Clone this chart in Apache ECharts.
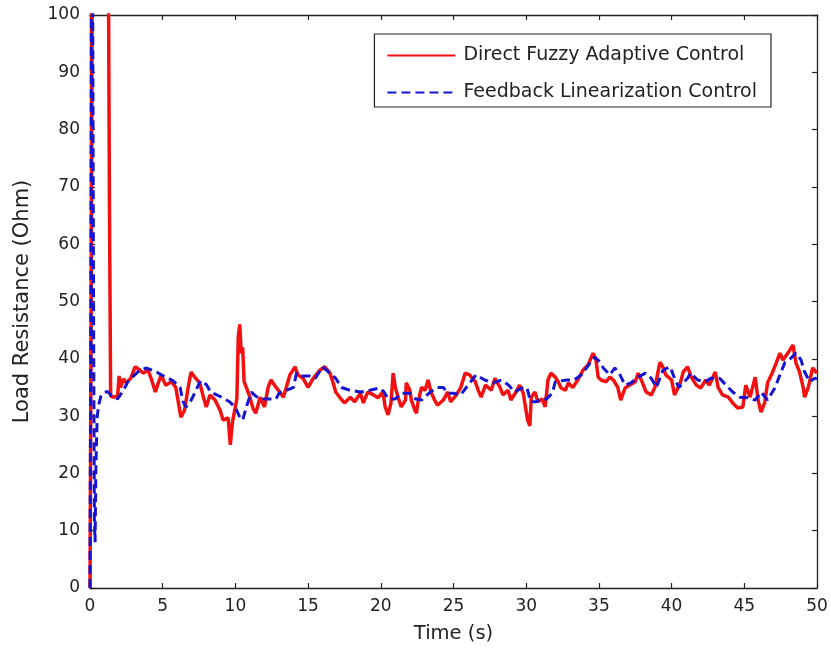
<!DOCTYPE html>
<html>
<head>
<meta charset="utf-8">
<script src="https://cdn.jsdelivr.net/npm/echarts@6/dist/echarts.min.js"></script>
<style>html,body{margin:0;padding:0;background:#fff}#c{width:831px;height:652px}</style>
</head>
<body>
<div id="c"></div>
<script>
var xTicks = [0, 5, 10, 15, 20, 25, 30, 35, 40, 45, 50];
var yTicks = [0, 10, 20, 30, 40, 50, 60, 70, 80, 90, 100];
var seriesNames = ['Direct Fuzzy Adaptive Control', 'Feedback Linearization Control'];
var xLabel = 'Time (s)';
var yLabel = 'Load Resistance (Ohm)';

var redPoints = [
[0,0],[0.1,60],[0.2,150],[1.22,150],[1.28,100],[1.34,66],[1.38,66],[1.42,33.5],[1.6,33.3],[1.9,33.5],[2.0,37],[2.1,35],[2.3,36.5],[2.5,35.8],[2.8,36.6],
[3.1,38.6],[3.45,38],[3.65,37.5],[4.0,38],[4.2,36.6],[4.5,34.2],[4.7,35.8],[4.9,37.2],[5.2,35.4],[5.6,36],[5.9,35],[6.05,32.8],[6.25,29.8],[6.5,31],
[6.75,35],[6.95,37.7],[7.2,36.8],[7.55,35.8],[7.8,33.3],[8.0,31.6],[8.25,33.7],[8.6,32.8],[8.95,31],[9.15,29.3],[9.5,29.7],[9.65,25],[9.8,29],[9.95,31],
[10.1,33],[10.2,44],[10.3,46],[10.4,41],[10.5,42],[10.6,36],[10.75,35],[11.0,33.3],[11.2,31.4],[11.4,30.5],[11.7,33.3],[12.0,31.6],[12.25,35],[12.45,36.3],
[12.8,35],[13.05,34.2],[13.3,33.3],[13.5,35],[13.75,37.2],[14.1,38.6],[14.3,37.2],[14.65,36.6],[15.0,35],[15.35,36.6],[15.8,38],[16.15,38.6],[16.5,37.5],
[16.7,36],[16.9,34.2],[17.2,33.2],[17.5,32.3],[17.9,33.3],[18.2,32.5],[18.6,34],[18.8,32.3],[19.1,34.2],[19.5,33.7],[19.8,33.2],[20.15,34.2],[20.3,31.6],
[20.5,30.2],[20.7,32.3],[20.85,37.5],[21.0,35],[21.2,33.2],[21.4,31.6],[21.7,32.8],[21.75,35.8],[22.0,34.5],[22.1,32.8],[22.35,31],[22.45,30.5],[22.55,32.3],
[22.8,35],[23.05,34.5],[23.25,36.3],[23.45,34.2],[23.7,32.8],[23.9,31.9],[24.3,32.8],[24.6,34.2],[24.8,32.5],[25.2,33.7],[25.5,35],[25.8,37.5],[26.1,37.2],
[26.5,36],[26.7,34.5],[26.9,33.3],[27.2,35.4],[27.6,34.5],[27.85,36.6],[28.2,35],[28.4,33.7],[28.75,34.5],[28.95,32.8],[29.3,34.2],[29.55,35.4],[29.8,34],
[29.95,31.6],[30.1,29.3],[30.25,28.3],[30.35,33.3],[30.6,34.2],[30.8,32.5],[31.1,33],[31.3,31.6],[31.5,36.3],[31.7,37.5],[32.0,36.8],[32.2,36],[32.4,34.9],
[32.7,34.5],[32.9,35.8],[33.2,35],[33.55,36.3],[33.9,38],[34.25,38.9],[34.6,41],[34.8,39.8],[34.95,36.8],[35.15,36.3],[35.5,36],[35.75,36.8],[36.0,36.3],
[36.3,35],[36.5,32.8],[36.8,34.9],[37.1,35.4],[37.5,36],[37.7,37.5],[38.0,35.8],[38.25,34.2],[38.6,33.7],[38.85,35],[39.2,39.4],[39.4,38.6],[39.6,37.2],
[40.0,36.3],[40.2,33.7],[40.6,35.8],[40.8,37.7],[41.1,38.6],[41.35,36.8],[41.7,35.4],[42.0,34.9],[42.35,36.3],[42.6,35.4],[43.0,37.7],[43.2,35],[43.5,33.7],
[43.9,33.3],[44.2,32.3],[44.55,31.4],[44.9,31.6],[45.1,35.4],[45.4,33.3],[45.75,36.8],[45.95,32.8],[46.15,30.7],[46.4,32.3],[46.6,35.8],[46.95,37.7],
[47.2,39.3],[47.45,41],[47.65,39.8],[48.0,41],[48.35,42.4],[48.55,39.3],[48.8,37.7],[49.05,35],[49.15,33.3],[49.4,35],[49.7,38.4],[50,37.5]
];

var bluePoints = [
[0,0],[0.05,40],[0.1,110],[0.15,130],[0.2,90],[0.25,45],[0.3,12],[0.35,8],[0.4,20],[0.45,26],[0.5,30],[0.6,32],[0.75,33.5],[0.9,34],[1.2,34.3],[1.5,33.5],
[1.9,33],[2.3,34.5],[2.6,36],[3.0,37],[3.3,37.7],[3.85,38.4],[4.5,37.8],[5.2,36.8],[5.7,36.2],[6.2,35],[6.4,32.5],[6.6,31.6],[6.9,32.5],[7.2,34],[7.6,36.2],
[8.0,35.5],[8.3,34.2],[8.9,33.5],[9.6,32.5],[10.0,31.5],[10.3,29.8],[10.5,29.3],[10.8,32],[11.1,34.2],[11.4,33.5],[11.7,33],[12.3,33],[12.8,33],[13.0,34],
[13.5,34.5],[14.0,35],[14.2,37.5],[14.6,37],[15.1,37],[15.5,36.6],[16.0,38.6],[16.5,37.5],[16.9,36.6],[17.3,35],[17.9,34.5],[18.6,34.2],[19.25,34.5],
[19.9,34.9],[20.2,34.3],[20.5,33],[21.0,33],[21.4,34],[22.0,34],[22.4,33],[22.8,32.8],[23.4,34.2],[23.9,35],[24.3,35],[24.6,34],[25.0,34],[25.5,33.7],
[26.0,35.4],[26.55,37.2],[27.15,36.3],[27.7,35.8],[28.3,36.3],[28.8,35.4],[29.2,34.2],[29.7,34.9],[30.05,35],[30.3,32.5],[30.7,32.5],[31.0,33],[31.4,33],
[31.8,34],[32.0,36],[32.8,36.3],[33.3,36.3],[33.8,37.2],[34.4,39.3],[34.7,40.3],[35.1,39.4],[35.3,38.4],[35.75,37.2],[36.1,38.4],[36.45,37.2],[36.8,35.4],
[37.2,35.8],[37.7,36.8],[38.2,37.5],[38.6,36.6],[38.95,35],[39.4,38],[39.9,38.6],[40.2,36.6],[40.5,35],[41.1,36.6],[41.3,37.5],[41.8,36.3],[42.3,36],
[42.7,36.6],[43.3,36.6],[43.75,35.4],[44.2,34.2],[44.7,33.3],[45.25,33.2],[45.75,32.8],[46.15,34.2],[46.6,32.8],[47.1,34.9],[47.45,37.2],[47.8,39.4],
[48.2,40.1],[48.55,41],[48.9,39.8],[49.15,37.7],[49.5,36],[49.85,36.6],[50,36.5]
];

var chart = echarts.init(document.getElementById('c'), null, {renderer: 'canvas'});
var font = 'DejaVu Sans, Verdana, sans-serif';
var txt = '#222';
function baseAxis(show) {
  return {
    axisLine: {show: true, onZero: false, lineStyle: {color: '#222', width: 1.3}},
    axisTick: {show: true, inside: true, length: 5, lineStyle: {color: '#222', width: 1.2}},
    splitLine: {show: false},
    axisLabel: {show: show, color: txt, fontFamily: font, fontSize: 17, margin: 10}
  };
}
chart.setOption({
  animation: false,
  backgroundColor: '#fff',
  grid: {left: 90, right: 14, top: 15, bottom: 64},
  legend: {
    orient: 'vertical', right: 60, top: 34,
    padding: [12, 14, 5, 12], itemGap: 18,
    itemWidth: 68, itemHeight: 18,
    borderColor: '#222', borderWidth: 1.2,
    backgroundColor: '#fff',
    itemStyle: {opacity: 0},
    textStyle: {color: txt, fontFamily: font, fontSize: 19, padding: [0, 0, 0, 3]},
    data: seriesNames
  },
  xAxis: [
    Object.assign({type: 'value', position: 'bottom', min: 0, max: 50, interval: 5,
      name: xLabel, nameLocation: 'middle', nameGap: 36,
      nameTextStyle: {color: txt, fontFamily: font, fontSize: 19.5}}, baseAxis(true)),
    Object.assign({type: 'value', position: 'top', min: 0, max: 50, interval: 5}, baseAxis(false))
  ],
  yAxis: [
    Object.assign({type: 'value', position: 'left', min: 0, max: 100, interval: 10,
      name: yLabel, nameLocation: 'middle', nameGap: 57,
      nameTextStyle: {color: txt, fontFamily: font, fontSize: 21}}, baseAxis(true)),
    Object.assign({type: 'value', position: 'right', min: 0, max: 100, interval: 10}, baseAxis(false))
  ],
  series: [
    {name: seriesNames[0], type: 'line', data: redPoints, symbol: 'none', showSymbol: false,
     clip: true, lineStyle: {color: '#f21010', width: 3.5}, itemStyle: {color: '#f21010'}, z: 2},
    {name: seriesNames[1], type: 'line', data: bluePoints, symbol: 'none', showSymbol: false,
     clip: true, lineStyle: {color: '#1414d2', width: 3, type: [9, 5]}, itemStyle: {color: '#1414d2'}, z: 3}
  ]
});
</script>
</body>
</html>
